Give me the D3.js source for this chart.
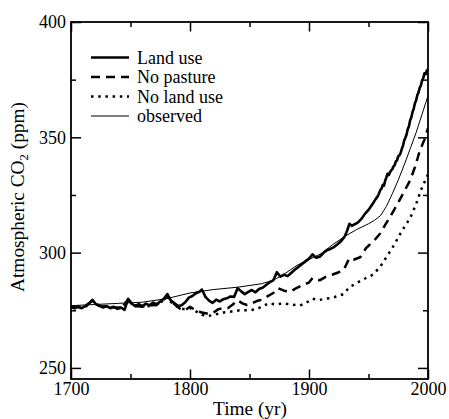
<!DOCTYPE html>
<html><head><meta charset="utf-8">
<script src="https://cdn.jsdelivr.net/npm/d3@7"></script>
<style>body{margin:0;background:#fff}svg{display:block}</style>
</head><body>
<script>
// ---- data ----
const xTicks = [1700, 1800, 1900, 2000];
const xMinorTicks = [1750, 1850, 1950];
const yTicks = [250, 300, 350, 400];
const yMinorTicks = [275, 325, 375];

const legendLabels = ["Land use", "No pasture", "No land use", "observed"];

const landUseYears = [1700,1703,1706,1709,1712,1715,1718,1721,1724,1727,1730,1733,1736,1739,1742,1745,1748,1751,1754,1757,1760,1763,1766,1769,1772,1775,1778,1781,1784,1787,1790,1793,1796,1799,1802,1805,1808,1810,1813,1816,1819,1822,1825,1828,1831,1834,1837,1840,1843,1846,1849,1852,1855,1858,1861,1864,1867,1870,1873,1876,1879,1882,1885,1888,1891,1894,1897,1900,1903,1906,1909,1912,1915,1918,1921,1924,1927,1930,1932,1934,1936,1938,1941,1944,1947,1950,1953,1956,1958,1960,1961,1962,1963,1964,1965,1966,1967,1968,1969,1970,1971,1972,1973,1974,1975,1976,1977,1978,1979,1980,1981,1982,1983,1984,1985,1986,1987,1988,1989,1990,1991,1992,1993,1994,1995,1996,1997,1998,1999,2000];
const landUseCO2 = [276.5,275.8,276.6,275.9,276.8,278.0,279.5,277.6,277.0,276.2,276.8,275.9,276.5,275.6,276.2,275.2,280.0,277.8,277.0,277.6,276.8,277.9,277.2,278.3,277.6,278.8,280.0,282.0,279.2,278.0,276.8,277.2,278.5,280.5,281.2,282.4,283.0,284.0,280.8,279.2,278.2,279.6,278.8,279.8,280.2,281.0,280.8,284.6,283.2,282.0,283.0,283.8,282.8,284.2,284.8,286.0,287.2,288.0,291.5,289.6,290.4,289.8,291.2,292.6,293.8,295.0,296.2,297.4,299.2,297.8,298.2,299.8,301.0,301.6,302.4,303.6,305.0,307.0,309.5,312.5,311.6,312.2,313.0,314.6,316.8,318.5,320.8,323.2,324.6,327.2,327.8,329.4,329.0,331.2,332.6,334.2,333.6,334.8,335.6,336.2,337.4,337.9,339.6,340.0,341.8,342.2,343.2,345.0,346.4,348.6,349.8,351.2,353.6,354.8,357.4,358.6,361.0,362.4,364.8,366.0,368.2,369.4,371.4,372.4,374.6,375.6,377.8,377.4,379.0,379.4];

const noPastureYears = [1700,1706,1712,1718,1724,1730,1736,1742,1748,1754,1760,1766,1772,1778,1781,1784,1788,1792,1796,1800,1805,1810,1815,1819,1824,1828,1832,1836,1840,1844,1848,1852,1856,1860,1865,1870,1874,1879,1884,1889,1895,1900,1903,1909,1914,1920,1925,1929,1934,1938,1943,1948,1952,1956,1960,1964,1968,1972,1976,1980,1985,1989,1993,1997,2000];
const noPastureCO2 = [276.3,276.4,276.6,279.2,276.8,276.6,276.3,276.0,279.6,276.8,276.6,277.0,277.4,279.6,281.2,278.8,277.2,275.5,275.0,276.5,275.0,274.0,273.5,273.8,275.5,276.0,276.0,277.5,279.4,278.0,277.3,278.0,279.0,279.5,281.0,282.5,284.6,283.5,283.0,284.5,286.0,287.0,289.0,288.0,289.5,290.5,291.5,292.4,297.6,297.0,298.0,302.0,304.0,306.0,308.4,312.0,315.4,319.0,322.7,326.5,331.4,337.0,344.0,349.0,354.0];

const noLandUseYears = [1700,1706,1712,1718,1724,1730,1736,1742,1748,1754,1760,1766,1772,1778,1781,1784,1788,1792,1796,1800,1805,1810,1815,1820,1828,1835,1842,1850,1856,1862,1866,1872,1878,1885,1892,1897,1903,1909,1914,1920,1929,1934,1940,1948,1954,1960,1965,1970,1976,1980,1985,1990,1994,1997,2000];
const noLandUseCO2 = [276.2,276.3,276.5,279.0,276.7,276.5,276.2,275.9,279.4,276.7,276.5,276.9,277.3,279.4,281.0,278.6,277.0,275.5,275.5,276.0,274.5,273.0,272.5,273.0,274.0,274.5,275.0,275.0,275.5,277.0,278.0,277.5,278.0,277.5,277.0,278.0,280.0,279.5,280.0,280.5,282.0,285.0,286.8,289.0,290.5,294.0,298.0,302.0,307.5,311.0,315.0,321.0,327.0,330.5,334.0];

const observedYears = [1700,1720,1740,1760,1780,1800,1820,1840,1860,1870,1880,1890,1900,1910,1920,1930,1940,1950,1955,1960,1965,1970,1975,1980,1985,1990,1995,2000];
const observedCO2 = [277.0,277.5,278.0,278.5,280.0,282.5,284.0,285.0,286.5,288.0,291.0,294.5,297.0,299.5,303.5,307.0,310.0,312.5,314.0,316.0,320.0,325.5,331.5,338.0,345.0,352.0,360.0,368.0];

// ---- layout ----
const W = 449, H = 419;
const L = 71, R = 428, T = 22, B = 379;
const FONT = "'Liberation Serif','Times New Roman',serif";

const x = d3.scaleLinear().domain([1700, 2000]).range([L, R]);
const y = d3.scaleLinear().domain([245.2, 400]).range([B, T]);

const svg = d3.select("body").append("svg").attr("width", W).attr("height", H)
  .attr("font-family", FONT);

svg.append("defs").append("clipPath").attr("id", "clip")
  .append("rect").attr("x", L).attr("y", T).attr("width", R - L).attr("height", B - T);

function styleAxis(g) {
  g.select(".domain").remove();
  g.selectAll(".tick line").attr("stroke", "#000").attr("stroke-width", 1.5);
  g.selectAll("text").attr("font-size", 18).attr("font-family", FONT).attr("fill", "#000");
}

// bottom
svg.append("g").attr("transform", `translate(0,${B})`)
  .call(d3.axisBottom(x).tickValues(xTicks).tickFormat(d3.format("d")).tickSize(-9.5).tickPadding(3.5))
  .call(styleAxis);
svg.append("g").attr("transform", `translate(0,${B})`)
  .call(d3.axisBottom(x).tickValues(xMinorTicks).tickFormat("").tickSize(-5))
  .call(styleAxis);
// top
svg.append("g").attr("transform", `translate(0,${T})`)
  .call(d3.axisTop(x).tickValues(xTicks).tickFormat("").tickSize(-9.5))
  .call(styleAxis);
svg.append("g").attr("transform", `translate(0,${T})`)
  .call(d3.axisTop(x).tickValues(xMinorTicks).tickFormat("").tickSize(-5))
  .call(styleAxis);
// left
svg.append("g").attr("transform", `translate(${L},0)`)
  .call(d3.axisLeft(y).tickValues(yTicks).tickFormat(d3.format("d")).tickSize(-10).tickPadding(5))
  .call(styleAxis);
svg.append("g").attr("transform", `translate(${L},0)`)
  .call(d3.axisLeft(y).tickValues(yMinorTicks).tickFormat("").tickSize(-5))
  .call(styleAxis);
// right
svg.append("g").attr("transform", `translate(${R},0)`)
  .call(d3.axisRight(y).tickValues(yTicks).tickFormat("").tickSize(-10))
  .call(styleAxis);
svg.append("g").attr("transform", `translate(${R},0)`)
  .call(d3.axisRight(y).tickValues(yMinorTicks).tickFormat("").tickSize(-5))
  .call(styleAxis);

// series
const line = d3.line().x(d => x(d[0])).y(d => y(d[1]));
const zip = (a, b) => a.map((v, i) => [v, b[i]]);
const series = [
  { data: zip(observedYears, observedCO2), w: 1, dash: null },
  { data: zip(noLandUseYears, noLandUseCO2), w: 2.5, dash: "2.5,4.7" },
  { data: zip(noPastureYears, noPastureCO2), w: 2.5, dash: "9,6" },
  { data: zip(landUseYears, landUseCO2), w: 2.6, dash: null },
];
const plot = svg.append("g").attr("clip-path", "url(#clip)");
series.forEach(s => {
  plot.append("path").attr("d", line(s.data)).attr("fill", "none")
    .attr("stroke", "#000").attr("stroke-width", s.w)
    .attr("stroke-linejoin", "round")
    .attr("stroke-dasharray", s.dash);
});

// frame
svg.append("rect").attr("x", L).attr("y", T).attr("width", R - L).attr("height", B - T)
  .attr("fill", "none").attr("stroke", "#000").attr("stroke-width", 1.8);

// legend
const legStyles = [
  { w: 2.6, dash: null }, { w: 2.5, dash: "9,6" }, { w: 2.5, dash: "2.5,4.7" }, { w: 1, dash: null }
];
const legY0 = 57.5, legDY = 19.5;
legendLabels.forEach((lab, i) => {
  const yy = legY0 + i * legDY;
  svg.append("line").attr("x1", 91).attr("x2", 129).attr("y1", yy).attr("y2", yy)
    .attr("stroke", "#000").attr("stroke-width", legStyles[i].w)
    .attr("stroke-dasharray", legStyles[i].dash);
  svg.append("text").attr("x", 137).attr("y", yy + 6).attr("font-size", 18).text(lab);
});

// axis titles (font size fitted so "Time (yr)" is ~74px wide, as in the reference)
const xt = svg.append("text").attr("x", 250).attr("y", 415).attr("text-anchor", "middle")
  .attr("font-size", 18).text("Time (yr)");
let fs = 18;
const len = xt.node().getComputedTextLength();
if (len > 0) fs = Math.max(17, Math.min(21, 18 * 74 / len));
xt.attr("font-size", fs);
const yt = svg.append("text").attr("transform", "translate(24,102) rotate(-90)")
  .attr("text-anchor", "end").attr("font-size", fs);
yt.append("tspan").text("Atmospheric CO");
yt.append("tspan").attr("font-size", fs * 0.66).attr("dy", 4).text("2");
yt.append("tspan").attr("dy", -4).text(" (ppm)");
</script>
</body></html>
